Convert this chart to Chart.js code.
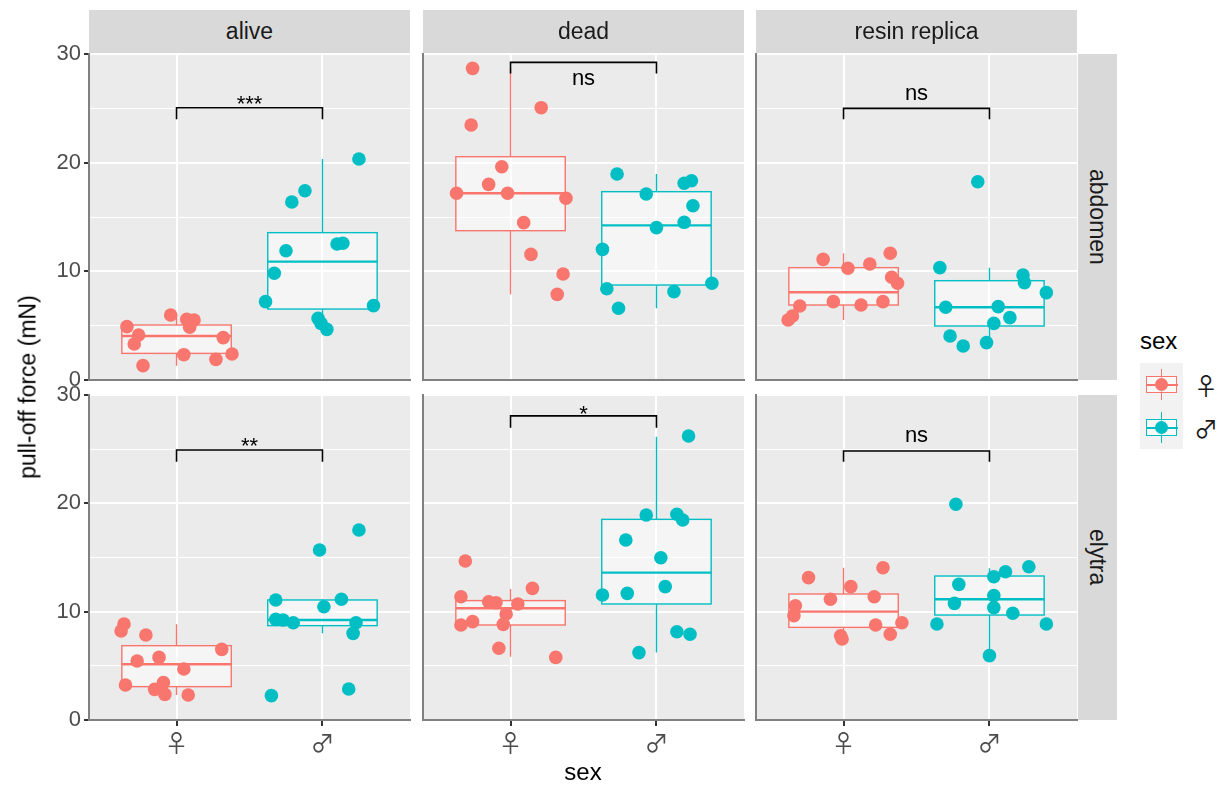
<!DOCTYPE html>
<html><head><meta charset="utf-8">
<script src="https://cdn.jsdelivr.net/npm/chart.js@4.4.1/dist/chart.umd.min.js"></script>
<style>
body{margin:0;background:#fff;width:1219px;height:787px;position:relative;overflow:hidden;font-family:"Liberation Sans","DejaVu Sans",Arial,sans-serif;}
.strip{position:absolute;background:#D9D9D9;color:#1A1A1A;font-size:23px;display:flex;align-items:center;justify-content:center;}
.vtext{writing-mode:vertical-rl;}
canvas{position:absolute;}
.lab{position:absolute;white-space:nowrap;color:#000;}
.sym{font-family:"Noto Sans CJK JP",sans-serif;}
.key{position:absolute;width:43px;height:43px;background:#F2F2F2;}
.key .wh{position:absolute;left:21px;top:6px;width:1.4px;height:31px;}
.key .bx{position:absolute;left:6px;top:13px;width:29px;height:15px;background:rgba(255,255,255,0.5);border:1.4px solid;}
.key .md{position:absolute;left:6px;top:20.5px;width:32px;height:2px;}
.key .pt{position:absolute;left:15px;top:15px;width:13px;height:13px;border-radius:50%;}
</style></head><body>
<div id="root"></div>
<script>
// ---------- data ----------
const conditions = ['alive', 'dead', 'resin replica'];
const parts = ['abdomen', 'elytra'];
const sexLabels = ['♀', '♂'];
const yTickLabels = [0, 10, 20, 30];

// alive / abdomen
const aliveAbdFemX = [0.66,0.74,0.71,0.77,0.96,1.07,1.12,1.09,1.05,1.27,1.32,1.38];
const aliveAbdFemY = [4.91,4.14,3.31,1.32,5.98,5.58,5.52,4.85,2.33,1.90,3.90,2.39];
const aliveAbdMaleX = [2.25,1.88,1.79,1.75,2.10,2.14,1.67,1.61,2.35,1.97,1.99,2.03];
const aliveAbdMaleY = [20.34,17.42,16.38,11.90,12.52,12.58,9.82,7.21,6.84,5.67,5.21,4.66];
const aliveAbdFemBox = [2.45,4.05,5.06,1.32,5.98];
const aliveAbdMaleBox = [6.53,10.89,13.56,4.66,20.34];
// dead / abdomen
const deadAbdFemX = [0.74,1.21,0.73,0.94,0.85,0.63,0.98,1.38,1.09,1.14,1.36,1.32];
const deadAbdFemY = [28.68,25.06,23.47,19.63,18.0,17.18,17.18,16.72,14.48,11.56,9.75,7.88];
const deadAbdMaleX = [1.73,2.19,2.24,1.93,2.25,2.19,2.0,1.63,1.66,2.38,2.12,1.74];
const deadAbdMaleY = [18.96,18.1,18.34,17.12,16.04,14.51,14.02,12.02,8.40,8.9,8.13,6.6];
const deadAbdFemBox = [13.74,17.18,20.55,7.88,28.68];
const deadAbdMaleBox = [8.74,14.23,17.33,6.6,18.96];
// resin replica / abdomen
const resinAbdFemX = [0.86,1.03,1.18,1.32,1.33,1.37,0.70,0.93,1.12,1.27,0.65,0.62];
const resinAbdFemY = [11.1,10.28,10.67,11.66,9.45,8.9,6.81,7.21,6.9,7.21,5.89,5.52];
const resinAbdMaleX = [1.92,1.66,2.23,2.24,2.39,1.70,2.06,2.14,2.03,1.73,1.82,1.98];
const resinAbdMaleY = [18.25,10.34,9.66,8.96,8.04,6.69,6.75,5.74,5.21,4.05,3.13,3.44];
const resinAbdFemBox = [6.9,8.07,10.34,5.52,11.66];
const resinAbdMaleBox = [4.97,6.69,9.14,3.3,10.34];
// alive / elytra
const aliveElyFemX = [0.64,0.62,0.79,1.31,0.73,0.88,1.05,0.65,0.91,0.85,0.92,1.08];
const aliveElyFemY = [8.86,8.22,7.85,6.52,5.45,5.78,4.71,3.23,3.45,2.83,2.37,2.31];
const aliveElyMaleX = [2.25,1.98,1.68,2.13,2.01,1.68,1.73,1.80,2.23,2.21,1.65,2.18];
const aliveElyMaleY = [17.54,15.69,11.08,11.14,10.46,9.29,9.23,8.98,8.98,8.0,2.25,2.86];
const aliveElyFemBox = [3.08,5.14,6.86,2.31,8.83];
const aliveElyMaleBox = [8.71,9.23,11.08,8.0,11.14];
// dead / elytra
const deadElyFemX = [0.69,1.15,0.66,0.85,0.90,1.05,0.97,0.66,0.74,0.95,0.92,1.31];
const deadElyFemY = [14.68,12.15,11.38,10.92,10.83,10.71,9.78,8.77,9.08,8.83,6.62,5.78];
const deadElyMaleX = [2.22,1.93,2.14,2.18,1.79,2.03,1.63,1.80,2.06,2.14,2.23,1.88];
const deadElyMaleY = [26.22,18.92,18.99,18.46,16.62,14.98,11.54,11.69,12.31,8.15,7.91,6.22];
const deadElyFemBox = [8.77,10.31,11.02,5.85,12.09];
const deadElyMaleBox = [10.71,13.6,18.52,6.22,26.15];
// resin replica / elytra
const resinElyFemX = [1.27,0.76,1.05,0.91,1.21,0.67,0.66,1.22,1.40,1.32,0.98,0.99];
const resinElyFemY = [14.06,13.14,12.31,11.14,11.38,10.55,9.63,8.77,8.98,7.91,7.78,7.48];
const resinElyMaleX = [1.77,2.27,2.11,2.03,1.79,2.03,1.76,2.03,2.16,1.64,2.39,2.0];
const resinElyMaleY = [19.91,14.15,13.69,13.23,12.52,11.48,10.77,10.37,9.85,8.86,8.86,5.94];
const resinElyFemBox = [8.55,10.0,11.63,7.48,14.06];
const resinElyMaleBox = [9.69,11.14,13.29,5.94,14.0];

// significance brackets: [bar y, tip y, label baseline y]
const bracketLabels = ['***', 'ns', 'ns', '**', '*', 'ns'];
const bracketBarY   = [25.06, 29.23, 25.0, 24.92, 28.07, 24.83];
const bracketTipY   = [24.0, 28.2, 24.0, 23.85, 26.98, 23.85];
const bracketTextY  = [24.75, 27.14, 25.76, 24.65, 27.64, 25.7];

// ---------- layout / style ----------
const FONT = '"Liberation Sans","DejaVu Sans",Arial,sans-serif';
const SYMFONT = '"Noto Sans CJK JP",sans-serif';
const FEM = '#F8766D', MALE = '#00BFC4';
const COL_LEFT = [89, 423, 756], PANEL_W = 321;
const ROW_TOP = [54, 395], PANEL_H = [326, 325];
Chart.defaults.font.family = FONT;

const panels = [
  {fx:aliveAbdFemX, fy:aliveAbdFemY, mx:aliveAbdMaleX, my:aliveAbdMaleY, fb:aliveAbdFemBox, mb:aliveAbdMaleBox},
  {fx:deadAbdFemX, fy:deadAbdFemY, mx:deadAbdMaleX, my:deadAbdMaleY, fb:deadAbdFemBox, mb:deadAbdMaleBox},
  {fx:resinAbdFemX, fy:resinAbdFemY, mx:resinAbdMaleX, my:resinAbdMaleY, fb:resinAbdFemBox, mb:resinAbdMaleBox},
  {fx:aliveElyFemX, fy:aliveElyFemY, mx:aliveElyMaleX, my:aliveElyMaleY, fb:aliveElyFemBox, mb:aliveElyMaleBox},
  {fx:deadElyFemX, fy:deadElyFemY, mx:deadElyMaleX, my:deadElyMaleY, fb:deadElyFemBox, mb:deadElyMaleBox},
  {fx:resinElyFemX, fy:resinElyFemY, mx:resinElyMaleX, my:resinElyMaleY, fb:resinElyFemBox, mb:resinElyMaleBox}
];

const panelBg = {id:'panelBg', beforeDraw(chart){
  const a = chart.chartArea, ctx = chart.ctx;
  ctx.save(); ctx.fillStyle = '#EBEBEB'; ctx.fillRect(a.left, a.top, a.right-a.left, a.bottom-a.top); ctx.restore();
}};
const boxPlugin = {id:'boxplot', beforeDatasetsDraw(chart, args, o){
  const ctx = chart.ctx, xs = chart.scales.x, ys = chart.scales.y;
  o.stats.forEach((s, i) => {
    const c = i + 1, col = o.colors[i];
    const cx = xs.getPixelForValue(c), l = xs.getPixelForValue(c - 0.375), r = xs.getPixelForValue(c + 0.375);
    const q1 = ys.getPixelForValue(s[0]), md = ys.getPixelForValue(s[1]), q3 = ys.getPixelForValue(s[2]);
    const lo = ys.getPixelForValue(s[3]), hi = ys.getPixelForValue(s[4]);
    ctx.save(); ctx.strokeStyle = col; ctx.lineWidth = 1.4;
    ctx.beginPath(); ctx.moveTo(cx, q3); ctx.lineTo(cx, hi); ctx.moveTo(cx, q1); ctx.lineTo(cx, lo); ctx.stroke();
    ctx.fillStyle = 'rgba(255,255,255,0.5)'; ctx.fillRect(l, q3, r-l, q1-q3);
    ctx.strokeRect(l, q3, r-l, q1-q3);
    ctx.lineWidth = 2.4; ctx.beginPath(); ctx.moveTo(l, md); ctx.lineTo(r, md); ctx.stroke();
    ctx.restore();
  });
}};
const bracketPlugin = {id:'bracket', afterDatasetsDraw(chart, args, o){
  const ctx = chart.ctx, xs = chart.scales.x, ys = chart.scales.y;
  const x1 = xs.getPixelForValue(1), x2 = xs.getPixelForValue(2);
  const yb = ys.getPixelForValue(o.bar), yt = ys.getPixelForValue(o.tip);
  ctx.save(); ctx.strokeStyle = '#000'; ctx.lineWidth = 1.6;
  ctx.beginPath(); ctx.moveTo(x1, yt); ctx.lineTo(x1, yb); ctx.lineTo(x2, yb); ctx.lineTo(x2, yt); ctx.stroke();
  ctx.fillStyle = '#000'; ctx.font = '22px ' + FONT; ctx.textAlign = 'center'; ctx.textBaseline = 'alphabetic';
  ctx.fillText(o.label, (x1+x2)/2, ys.getPixelForValue(o.text));
  ctx.restore();
}};

const root = document.getElementById('root');
function el(tag, cls, style, text){
  const e = document.createElement(tag); if (cls) e.className = cls;
  Object.assign(e.style, style); if (text != null) e.textContent = text; root.appendChild(e); return e;
}

panels.forEach((p, k) => {
  const row = Math.floor(k / 3), col = k % 3;
  const isLeft = col === 0, isBottom = row === 1;
  const padL = isLeft ? 52 : 20, padT = 20, padR = 20, padB = isBottom ? 56 : 20;
  const W = PANEL_W + padL + padR, H = PANEL_H[row] + padT + padB;
  const cv = el('canvas', null, {left:(COL_LEFT[col]-padL)+'px', top:(ROW_TOP[row]-padT)+'px', width:W+'px', height:H+'px'});
  cv.width = W; cv.height = H;
  new Chart(cv, {
    type:'scatter',
    data:{datasets:[
      {data:p.fx.map((x,i)=>({x:x, y:p.fy[i]})), backgroundColor:FEM, borderWidth:0, pointRadius:6.8, pointHoverRadius:6.8},
      {data:p.mx.map((x,i)=>({x:x, y:p.my[i]})), backgroundColor:MALE, borderWidth:0, pointRadius:6.8, pointHoverRadius:6.8}
    ]},
    options:{
      responsive:false, animation:false, events:[], devicePixelRatio:1,
      layout:{padding:{left:isLeft?0:padL, right:padR, top:padT, bottom:isBottom?0:padB}},
      plugins:{legend:{display:false}, tooltip:{enabled:false},
        boxplot:{stats:[p.fb, p.mb], colors:[FEM, MALE]},
        bracket:{bar:bracketBarY[k], tip:bracketTipY[k], text:bracketTextY[k], label:bracketLabels[k]}},
      scales:{
        x:{type:'linear', min:0.4, max:2.6,
          afterBuildTicks:s=>{s.ticks=[1,2].map(v=>({value:v}));},
          afterFit:s=>{s.height = isBottom ? padB : 0;},
          grid:{color:'#FFFFFF', lineWidth:2, drawTicks:isBottom, tickLength:6, tickColor:'#333333', tickWidth:2},
          border:{display:true, color:'#808080', width:2},
          ticks:{display:isBottom, autoSkip:false, maxRotation:0, padding:2, color:'#4D4D4D', font:{size:24, family:SYMFONT},
            callback:v=>sexLabels[Math.round(v)-1]}},
        y:{min:0, max:30,
          afterBuildTicks:s=>{s.ticks=[0,5,10,15,20,25,30].map(v=>({value:v}));},
          afterFit:s=>{s.width = isLeft ? padL : 0;},
          grid:{color:'#FFFFFF', lineWidth:c=>(c.tick && c.tick.value%10===0)?2:1, drawTicks:isLeft, tickLength:5,
            tickColor:c=>(c.tick && c.tick.value%10===0)?'#333333':'rgba(0,0,0,0)', tickWidth:2},
          border:{display:true, color:'#808080', width:2},
          ticks:{display:isLeft, autoSkip:false, padding:3, color:'#4D4D4D', font:{size:22},
            callback:v=>yTickLabels.includes(v)?String(v):''}}
      }
    },
    plugins:[panelBg, boxPlugin, bracketPlugin]
  });
});

// strips
conditions.forEach((c, i) => el('div', 'strip', {left:COL_LEFT[i]+'px', top:'10px', width:PANEL_W+'px', height:'43px'}, c));
parts.forEach((pt, i) => {
  const d = el('div', 'strip', {left:'1078px', top:ROW_TOP[i]+'px', width:'39px', height:PANEL_H[i]+'px'});
  const s = document.createElement('span'); s.className = 'vtext'; s.textContent = pt; d.appendChild(s);
});
// axis titles
el('div', 'lab', {left:'28px', top:'387px', transform:'translate(-50%,-50%) rotate(-90deg)', fontSize:'23px'}, 'pull-off force (mN)');
el('div', 'lab', {left:'583px', top:'772px', transform:'translate(-50%,-50%)', fontSize:'24px'}, 'sex');
// legend
el('div', 'lab', {left:'1140px', top:'341px', transform:'translateY(-50%)', fontSize:'24px'}, 'sex');
[FEM, MALE].forEach((c, i) => {
  const top = 363 + i*43;
  const k = el('div', 'key', {left:'1140px', top:top+'px'});
  const parts2 = [['wh',{background:c}],['bx',{borderColor:c}],['md',{background:c}],['pt',{background:c}]];
  parts2.forEach(([cls, st]) => { const e = document.createElement('div'); e.className = cls; Object.assign(e.style, st); k.appendChild(e); });
  el('div', 'lab sym', {left:'1194px', top:(top+21)+'px', transform:'translateY(-50%)', fontSize:'24px', color:'#1A1A1A'}, sexLabels[i]);
});
</script>
</body></html>
